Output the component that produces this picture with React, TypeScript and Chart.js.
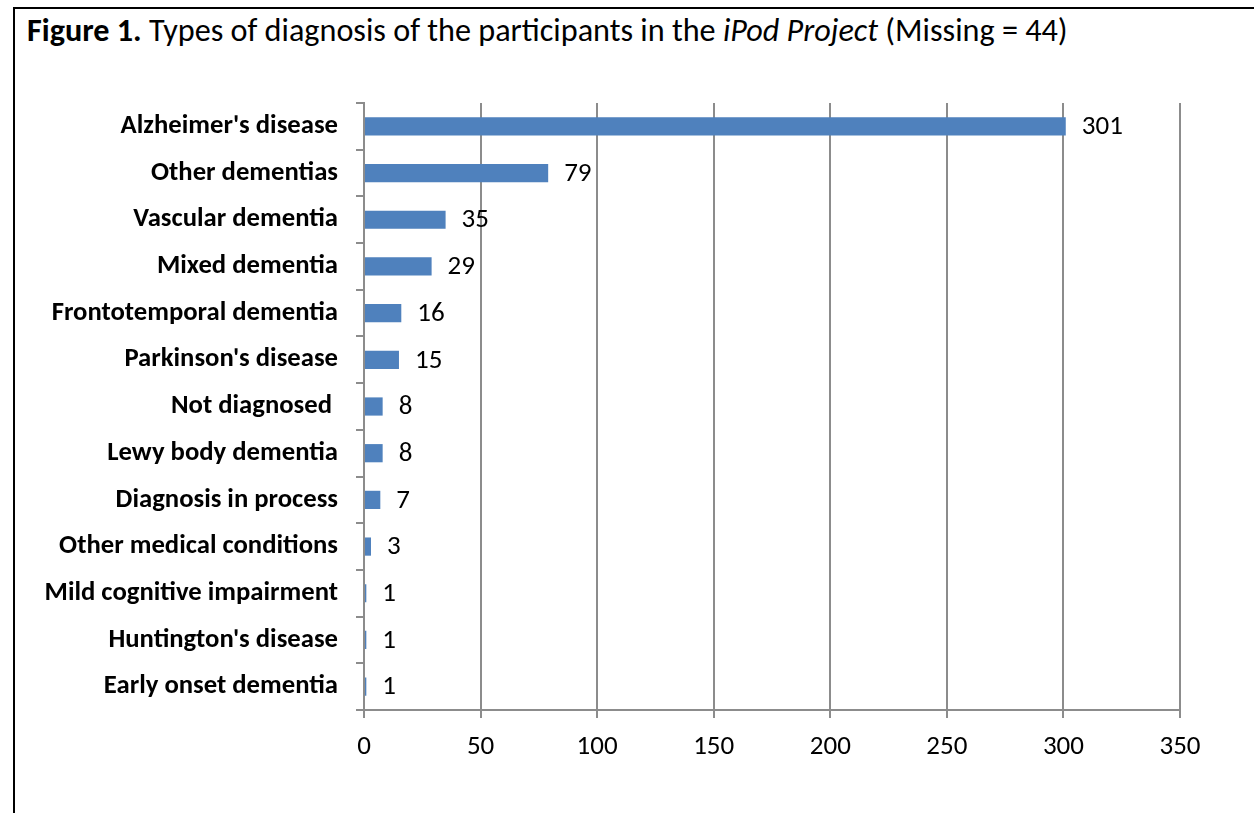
import React, { useEffect, useRef } from "react";
import { Chart, registerables } from "chart.js";

Chart.register(...registerables);

const categories = [
  "Alzheimer's disease",
  "Other dementias",
  "Vascular dementia",
  "Mixed dementia",
  "Frontotemporal dementia",
  "Parkinson's disease",
  "Not diagnosed ",
  "Lewy body dementia",
  "Diagnosis in process",
  "Other medical conditions",
  "Mild cognitive impairment",
  "Huntington's disease",
  "Early onset dementia",
];
const counts = [301, 79, 35, 29, 16, 15, 8, 8, 7, 3, 1, 1, 1];
const xTicks = [0, 50, 100, 150, 200, 250, 300, 350];

const FONT = "Carlito, Lato, 'Open Sans', sans-serif";

const valueLabels = {
  id: "valueLabels",
  afterDatasetsDraw(chart: any) {
    const ctx = chart.ctx;
    const meta = chart.getDatasetMeta(0);
    ctx.save();
    ctx.font = `27px ${FONT}`;
    ctx.fillStyle = "#000";
    ctx.textAlign = "left";
    ctx.textBaseline = "middle";
    meta.data.forEach((bar: any, i: number) => {
      ctx.fillText(String(counts[i]), bar.x + 16, bar.y + 1);
    });
    ctx.restore();
  },
};

export default function App() {
  const ref = useRef<HTMLCanvasElement>(null);
  useEffect(() => {
    if (!ref.current) return;
    const chart = new Chart(ref.current, {
      type: "bar",
      data: {
        labels: categories,
        datasets: [
          {
            data: counts,
            backgroundColor: "#4f81bd",
            borderWidth: 0,
            categoryPercentage: 1,
            barPercentage: 0.39,
          },
        ],
      },
      options: {
        indexAxis: "y",
        animation: false,
        responsive: false,
        maintainAspectRatio: false,
        layout: { padding: { top: 103, right: 74, left: 0, bottom: 0 } },
        plugins: { legend: { display: false }, tooltip: { enabled: false } },
        scales: {
          x: {
            type: "linear",
            min: 0,
            max: 350,
            afterBuildTicks: (scale: any) => {
              scale.ticks = xTicks.map((v) => ({ value: v }));
            },
            afterFit: (scale: any) => {
              scale.height = 103;
            },
            ticks: {
              font: { family: FONT, size: 27 },
              color: "#000",
              padding: 13,
              maxRotation: 0,
            },
            grid: {
              color: "#8c8c8c",
              lineWidth: 2,
              tickLength: 8,
              drawOnChartArea: true,
            },
            border: { color: "#8c8c8c", width: 2 },
          },
          y: {
            type: "category",
            afterFit: (scale: any) => {
              scale.width = 364;
            },
            ticks: {
              font: { family: FONT, size: 26.7, weight: "bold" },
              color: "#000",
              padding: 18,
              autoSkip: false,
            },
            grid: {
              color: "#8c8c8c",
              lineWidth: 2,
              tickLength: 8,
              drawOnChartArea: false,
              offset: true,
            },
            border: { color: "#8c8c8c", width: 2 },
          },
        },
      },
      plugins: [valueLabels],
    });
    return () => chart.destroy();
  }, []);

  return (
    <div
      style={{
        position: "fixed",
        left: 0,
        top: 0,
        width: 1254,
        height: 813,
        background: "#fff",
        overflow: "hidden",
      }}
    >
      <div
        style={{
          position: "absolute",
          left: 13,
          top: 7,
          width: 1300,
          height: 900,
          borderLeft: "2px solid #000",
          borderTop: "2px solid #000",
        }}
      />
      <div
        style={{
          position: "absolute",
          left: 27,
          top: 10,
          fontFamily: FONT,
          fontSize: 32.2,
          lineHeight: "40px",
          color: "#000",
          whiteSpace: "nowrap",
        }}
      >
        <b>Figure 1.</b> Types of diagnosis of the participants in the <i>iPod Project</i> (Missing = 44)
      </div>
      <canvas
        ref={ref}
        width={1254}
        height={813}
        style={{ position: "absolute", left: 0, top: 0 }}
      />
    </div>
  );
}
